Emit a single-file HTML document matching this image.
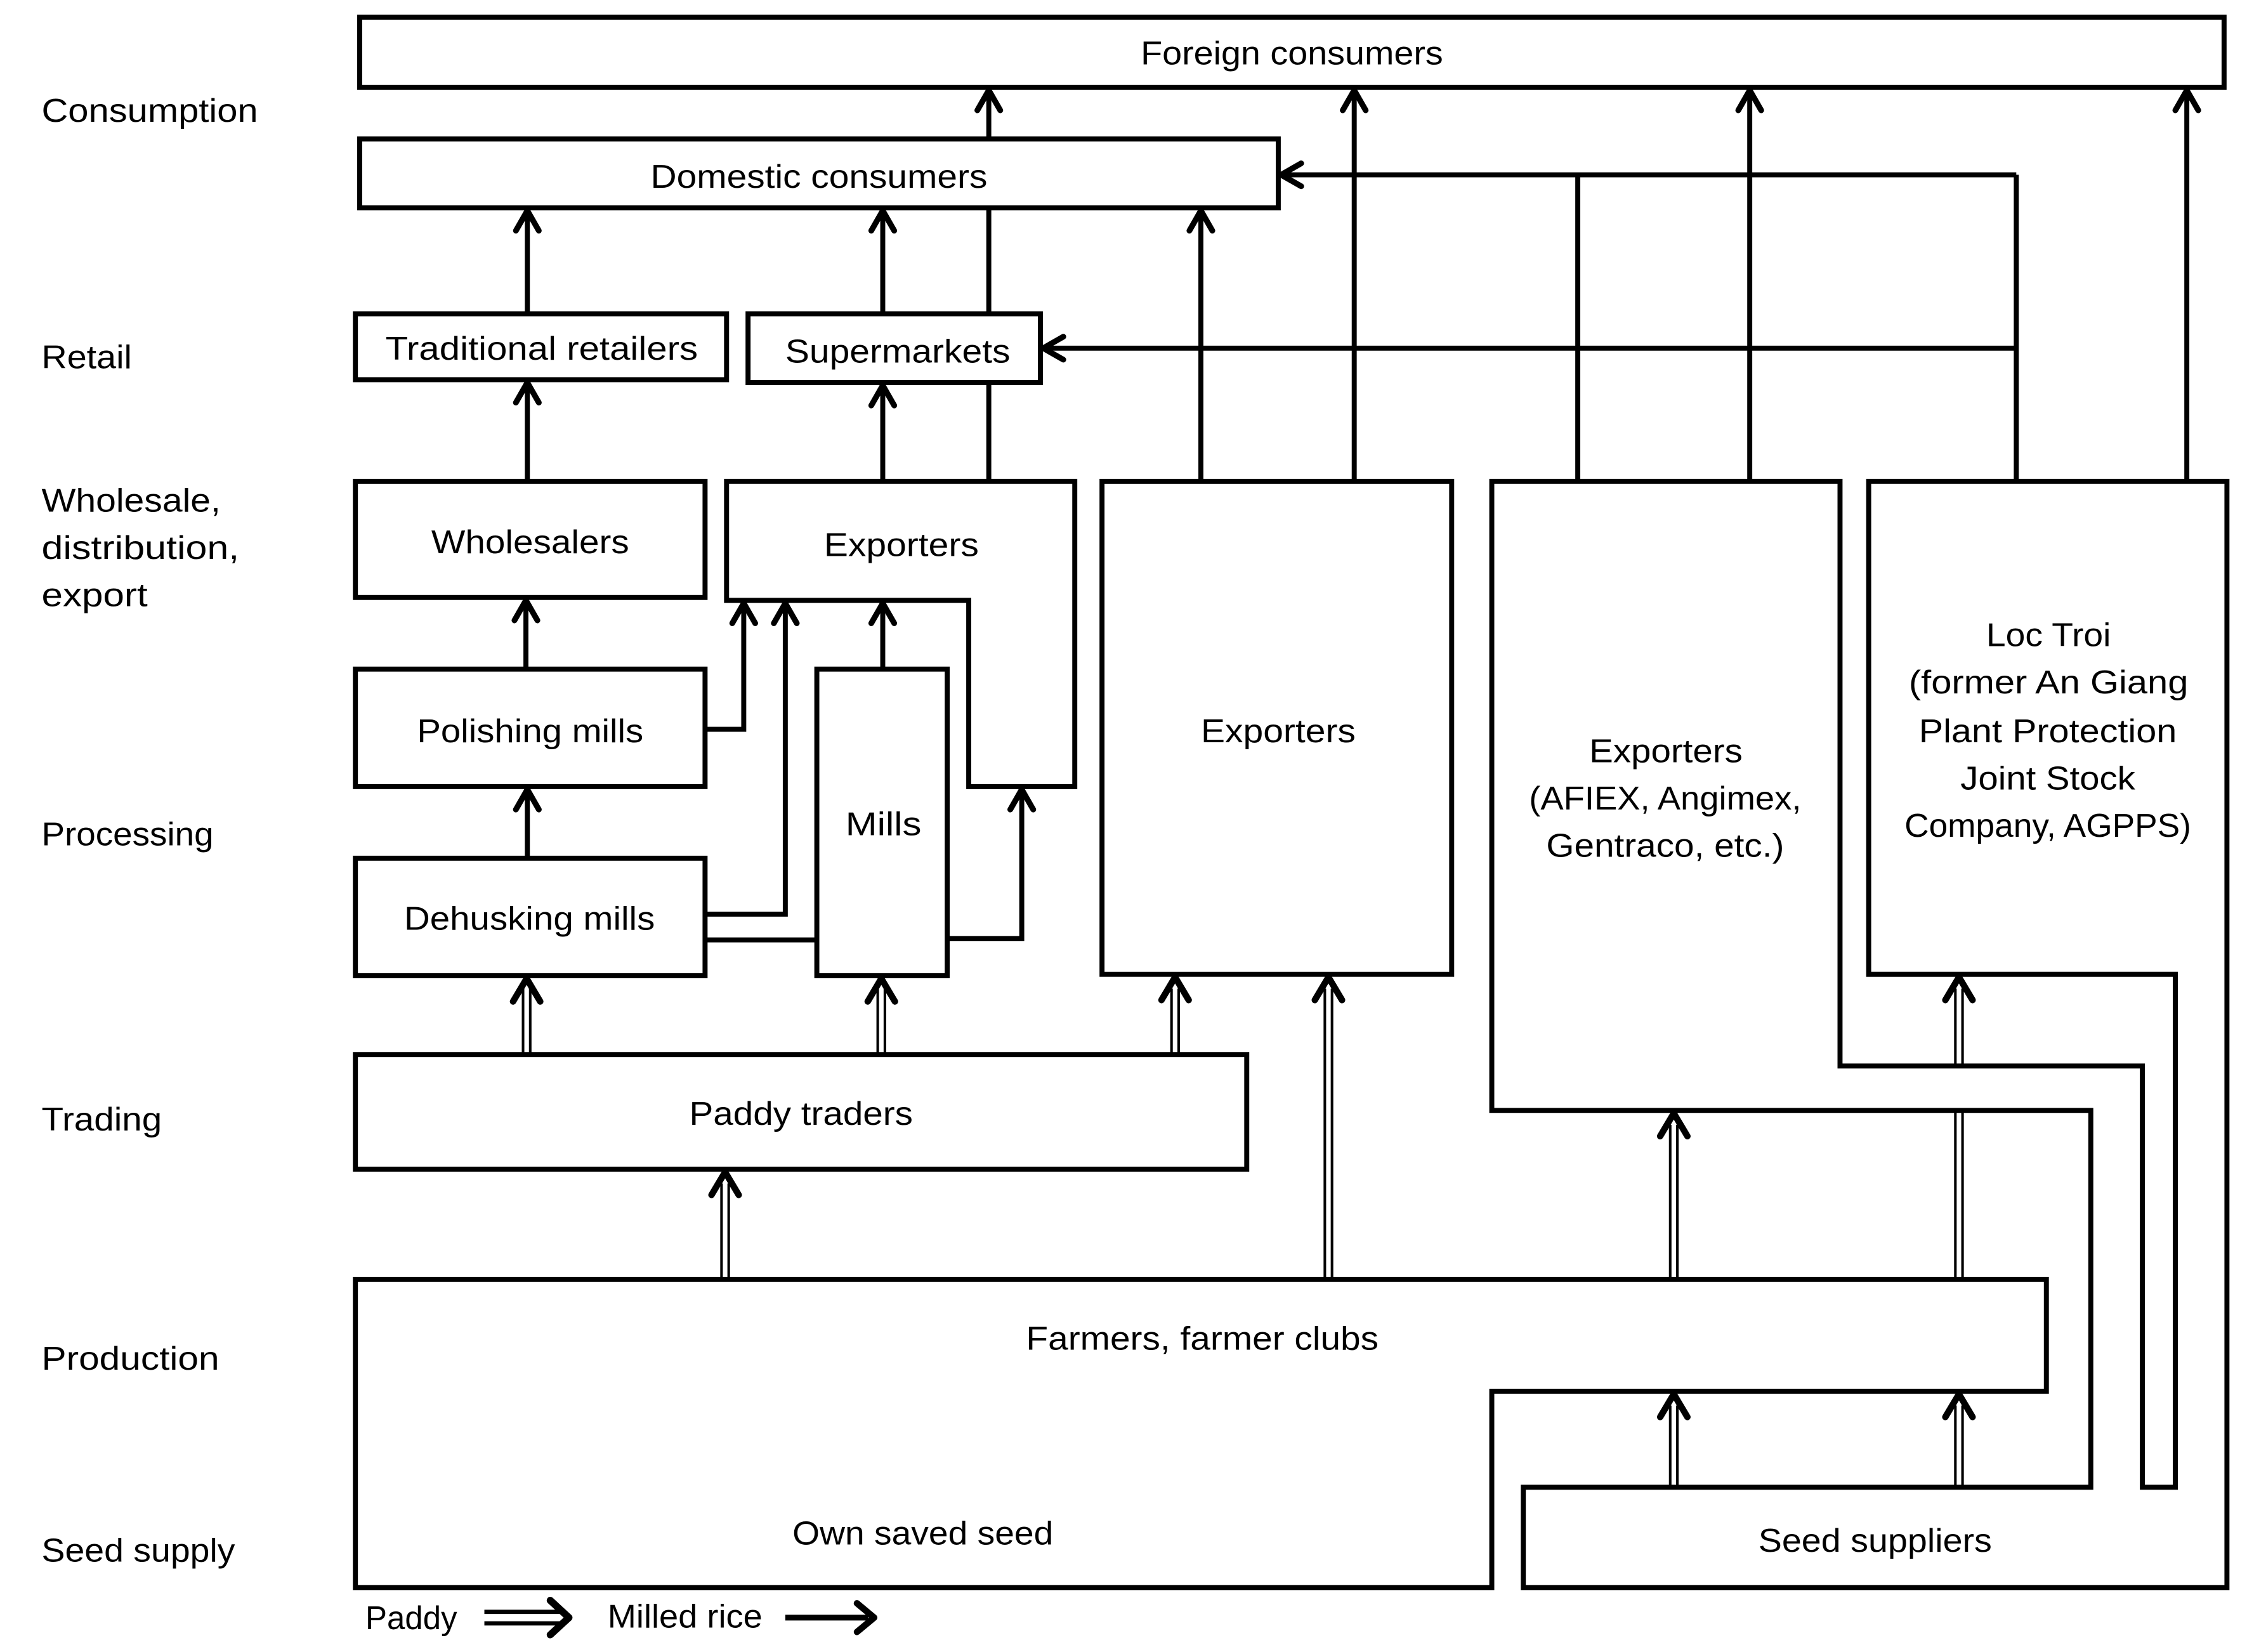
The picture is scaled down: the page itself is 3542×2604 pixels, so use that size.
<!DOCTYPE html>
<html><head><meta charset="utf-8"><style>html,body{margin:0;padding:0;background:#fff}svg{display:block}</style></head>
<body>
<svg xmlns="http://www.w3.org/2000/svg" width="3542" height="2604" viewBox="0 0 1568 1153" preserveAspectRatio="none">
<g fill="none" stroke="#000" stroke-width="3.5" stroke-linejoin="miter">
<!-- long vertical lines (milled rice) -->
<line x1="690" y1="336" x2="690" y2="63"/>
<line x1="616" y1="336" x2="616" y2="147"/>
<line x1="368" y1="336" x2="368" y2="147"/>
<line x1="367" y1="467" x2="367" y2="419"/>
<line x1="368" y1="599" x2="368" y2="551"/>
<line x1="838" y1="336" x2="838" y2="147"/>
<line x1="945" y1="336" x2="945" y2="63"/>
<line x1="1101" y1="336" x2="1101" y2="122"/>
<line x1="1221" y1="336" x2="1221" y2="63"/>
<line x1="1407" y1="336" x2="1407" y2="122"/>
<line x1="1526" y1="336" x2="1526" y2="63"/>
<line x1="1407" y1="122" x2="894" y2="122"/>
<line x1="1407" y1="243" x2="728" y2="243"/>
<polyline points="492,509 519,509 519,421"/>
<polyline points="492,638 548,638 548,421"/>
<line x1="492" y1="656" x2="570" y2="656"/>
<line x1="616" y1="467" x2="616" y2="421"/>
<polyline points="661,655 713,655 713,551"/>
</g>
<!-- boxes -->
<g fill="#fff" stroke="#000" stroke-width="3.5">
<rect x="251" y="12" width="1301" height="49"/>
<rect x="251" y="97" width="641" height="48"/>
<rect x="248" y="219" width="259" height="46"/>
<rect x="522" y="219" width="204" height="48"/>
<rect x="248" y="336" width="244" height="81"/>
<polygon points="507,336 750,336 750,549 676,549 676,419 507,419"/>
<rect x="248" y="467" width="244" height="82"/>
<rect x="248" y="599" width="244" height="82"/>
<rect x="570" y="467" width="91" height="214"/>
<rect x="769" y="336" width="244" height="344"/>
<rect x="248" y="736" width="622" height="80"/>
<polygon points="248,893 1428,893 1428,971 1041,971 1041,1108 248,1108"/>
<polygon points="1554,336 1554,1108 1063,1108 1063,1038 1459,1038 1459,775 1041,775 1041,336 1284,336 1284,744 1495,744 1495,1038 1518,1038 1518,680 1304,680 1304,336"/>
</g>
<!-- single arrowheads -->
<g fill="none" stroke="#000" stroke-width="4" stroke-linecap="round" stroke-linejoin="round">
<polyline points="682,77 690,63 698,77"/>
<polyline points="608,161 616,147 624,161"/>
<polyline points="360,161 368,147 376,161"/>
<polyline points="608,283 616,269 624,283"/>
<polyline points="360,281 368,267 376,281"/>
<polyline points="359,433 367,419 375,433"/>
<polyline points="360,565 368,551 376,565"/>
<polyline points="830,161 838,147 846,161"/>
<polyline points="937,77 945,63 953,77"/>
<polyline points="1213,77 1221,63 1229,77"/>
<polyline points="1518,77 1526,63 1534,77"/>
<polyline points="908,114 894,122 908,130"/>
<polyline points="742,235 728,243 742,251"/>
<polyline points="511,435 519,421 527,435"/>
<polyline points="540,435 548,421 556,435"/>
<polyline points="608,435 616,421 624,435"/>
<polyline points="705,565 713,551 721,565"/>
</g>
<!-- double (paddy) arrows -->
<g stroke="#000" stroke-width="1.8" fill="none">
<line x1="365" y1="736" x2="365" y2="690"/><line x1="370" y1="736" x2="370" y2="690"/>
<line x1="612.5" y1="736" x2="612.5" y2="690"/><line x1="617.5" y1="736" x2="617.5" y2="690"/>
<line x1="817.5" y1="736" x2="817.5" y2="690"/><line x1="822.5" y1="736" x2="822.5" y2="690"/>
<line x1="924.5" y1="893" x2="924.5" y2="690"/><line x1="929.5" y1="893" x2="929.5" y2="690"/>
<line x1="503.5" y1="893" x2="503.5" y2="826"/><line x1="508.5" y1="893" x2="508.5" y2="826"/>
<line x1="1165.5" y1="893" x2="1165.5" y2="785"/><line x1="1170.5" y1="893" x2="1170.5" y2="785"/>
<line x1="1364.5" y1="893" x2="1364.5" y2="776"/><line x1="1369.5" y1="893" x2="1369.5" y2="776"/>
<line x1="1364.5" y1="743" x2="1364.5" y2="690"/><line x1="1369.5" y1="743" x2="1369.5" y2="690"/>
<line x1="1165.5" y1="1038" x2="1165.5" y2="981"/><line x1="1170.5" y1="1038" x2="1170.5" y2="981"/>
<line x1="1364.5" y1="1038" x2="1364.5" y2="981"/><line x1="1369.5" y1="1038" x2="1369.5" y2="981"/>
</g>
<g fill="none" stroke="#000" stroke-width="4.5" stroke-linecap="round" stroke-linejoin="round">
<polyline points="358,699 367.5,683 377,699"/>
<polyline points="605.5,699 615,683 624.5,699"/>
<polyline points="810.5,698 820,682 829.5,698"/>
<polyline points="917.5,698 927,682 936.5,698"/>
<polyline points="496.5,834 506,818 515.5,834"/>
<polyline points="1158.5,793 1168,777 1177.5,793"/>
<polyline points="1357.5,698 1367,682 1376.5,698"/>
<polyline points="1158.5,989 1168,973 1177.5,989"/>
<polyline points="1357.5,989 1367,973 1376.5,989"/>
</g>
<!-- legend -->
<g stroke="#000" fill="none">
<line x1="338" y1="1125" x2="392" y2="1125" stroke-width="3"/>
<line x1="338" y1="1133" x2="392" y2="1133" stroke-width="3"/>
<polyline points="384,1117 397,1129 384,1141" stroke-width="5" stroke-linecap="round" stroke-linejoin="round"/>
<line x1="548" y1="1129" x2="606" y2="1129" stroke-width="4"/>
<polyline points="598,1119 610,1129 598,1139" stroke-width="4.5" stroke-linecap="round" stroke-linejoin="round"/>
</g>
<!-- text -->
<g font-family="'Liberation Sans', sans-serif" font-size="23" fill="#000" lengthAdjust="spacingAndGlyphs">
<text x="29" y="85" textLength="151" lengthAdjust="spacingAndGlyphs">Consumption</text>
<text x="29" y="257" textLength="63" lengthAdjust="spacingAndGlyphs">Retail</text>
<text x="29" y="357" textLength="125" lengthAdjust="spacingAndGlyphs">Wholesale,</text>
<text x="29" y="390" textLength="138" lengthAdjust="spacingAndGlyphs">distribution,</text>
<text x="29" y="423" textLength="74" lengthAdjust="spacingAndGlyphs">export</text>
<text x="29" y="590" textLength="120" lengthAdjust="spacingAndGlyphs">Processing</text>
<text x="29" y="789" textLength="84" lengthAdjust="spacingAndGlyphs">Trading</text>
<text x="29" y="956" textLength="124" lengthAdjust="spacingAndGlyphs">Production</text>
<text x="29" y="1090" textLength="135" lengthAdjust="spacingAndGlyphs">Seed supply</text>

<text x="796" y="45" textLength="211" lengthAdjust="spacingAndGlyphs">Foreign consumers</text>
<text x="454" y="131" textLength="235" lengthAdjust="spacingAndGlyphs">Domestic consumers</text>
<text x="269" y="251" textLength="218" lengthAdjust="spacingAndGlyphs">Traditional retailers</text>
<text x="548" y="253" textLength="157" lengthAdjust="spacingAndGlyphs">Supermarkets</text>
<text x="301" y="386" textLength="138" lengthAdjust="spacingAndGlyphs">Wholesalers</text>
<text x="575" y="388" textLength="108" lengthAdjust="spacingAndGlyphs">Exporters</text>
<text x="291" y="518" textLength="158" lengthAdjust="spacingAndGlyphs">Polishing mills</text>
<text x="282" y="649" textLength="175" lengthAdjust="spacingAndGlyphs">Dehusking mills</text>
<text x="590" y="583" textLength="53" lengthAdjust="spacingAndGlyphs">Mills</text>
<text x="838" y="518" textLength="108" lengthAdjust="spacingAndGlyphs">Exporters</text>
<text x="1109" y="532" textLength="107" lengthAdjust="spacingAndGlyphs">Exporters</text>
<text x="1067" y="565" textLength="190" lengthAdjust="spacingAndGlyphs">(AFIEX, Angimex,</text>
<text x="1079" y="598" textLength="166" lengthAdjust="spacingAndGlyphs">Gentraco, etc.)</text>
<text x="1386" y="451" textLength="87" lengthAdjust="spacingAndGlyphs">Loc Troi</text>
<text x="1332" y="484" textLength="195" lengthAdjust="spacingAndGlyphs">(former An Giang</text>
<text x="1339" y="518" textLength="180" lengthAdjust="spacingAndGlyphs">Plant Protection</text>
<text x="1368" y="551" textLength="122" lengthAdjust="spacingAndGlyphs">Joint Stock</text>
<text x="1329" y="584" textLength="200" lengthAdjust="spacingAndGlyphs">Company, AGPPS)</text>
<text x="481" y="785" textLength="156" lengthAdjust="spacingAndGlyphs">Paddy traders</text>
<text x="716" y="942" textLength="246" lengthAdjust="spacingAndGlyphs">Farmers, farmer clubs</text>
<text x="553" y="1078" textLength="182" lengthAdjust="spacingAndGlyphs">Own saved seed</text>
<text x="1227" y="1083" textLength="163" lengthAdjust="spacingAndGlyphs">Seed suppliers</text>
<text x="255" y="1137" textLength="64" lengthAdjust="spacingAndGlyphs">Paddy</text>
<text x="424" y="1136" textLength="108" lengthAdjust="spacingAndGlyphs">Milled rice</text>
</g>
</svg>
</body></html>
